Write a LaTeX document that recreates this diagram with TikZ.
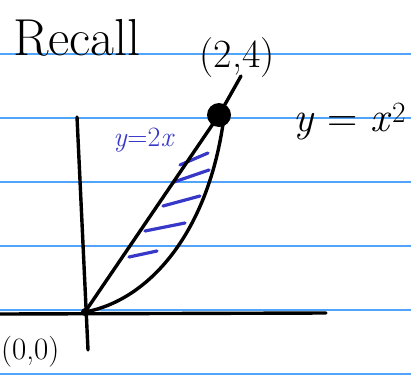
\documentclass[tikz,border=0pt]{standalone}
\usepackage{amsmath}
\definecolor{ruleblue}{RGB}{80,165,250}
\definecolor{penblue}{RGB}{55,55,200}
\tikzset{
  rule_line/.style = {draw=ruleblue, line width=1.6pt},% ligne du cahier
  pen/.style = {draw=black, line width=3.4pt, line cap=round,
    line join=round},% trait noir
  blue_pen/.style = {draw=penblue, line width=3.2pt, line cap=round},% hachures
  hand_text/.style = {inner sep=0pt, text centered},% texte
  big_dot/.style = {circle, fill=black, inner sep=0pt,
    minimum size=24pt},% point (2,4)
  small_dot/.style = {circle, fill=black, inner sep=0pt,
    minimum size=8pt}% origine
}

\begin{document}
\begin{tikzpicture}[x=1pt, y=-1pt]
  \useasboundingbox (0,0) rectangle (411,383);
  \foreach \y in {54,118,182,246,310,374}
    \draw[rule_line] (0,\y) -- (411,\y);
  \node [hand_text, anchor=base west, font=\fontsize{52}{56}\selectfont]
    (recall) at (13,55) {Recall};
  % axes
  \coordinate (xl) at (0,314);
  \coordinate (xr) at (326,313);
  \coordinate (yt) at (77,117);
  \coordinate (yb) at (88,350);
  \draw[pen] (xl) -- (xr);
  \draw[pen] (yt) -- (yb);
  \node [small_dot] (O) at (85,312) {};
  \node [big_dot] (P) at (219,115) {};
  \coordinate (Pr) at (223,124);
  \coordinate (tail) at (241,76);
  % hachures
  \foreach \xa/\ya/\xb/\yb in {208/153/180/165, 209/170/174/182,
      200/196/163/206, 185/223/145/231, 157/251/129/257}
    \draw[blue_pen] (\xa,\ya) -- (\xb,\yb);
  \draw[pen] (O.center) -- (P.center);
  \draw[pen] (O.center) .. controls (150,300) and (207,232) .. (Pr);
  \draw[pen] (P.center) -- (tail);
  \node [hand_text, font=\fontsize{40}{44}\selectfont] (lblP) at (237,58) {(2,4)};
  \node [hand_text, font=\fontsize{42}{46}\selectfont] (lblcurve) at (350,122)
    {\textit{y} = \textit{x}\textsuperscript{2}};
  \node [hand_text, text=penblue, font=\fontsize{28}{30}\selectfont] (lblline) at (144,140)
    {\textit{y}=2\textit{x}};
  \node [hand_text, anchor=west, font=\fontsize{31}{34}\selectfont] (lblO) at (1,352) {(0,0)};
\end{tikzpicture}
\end{document}
